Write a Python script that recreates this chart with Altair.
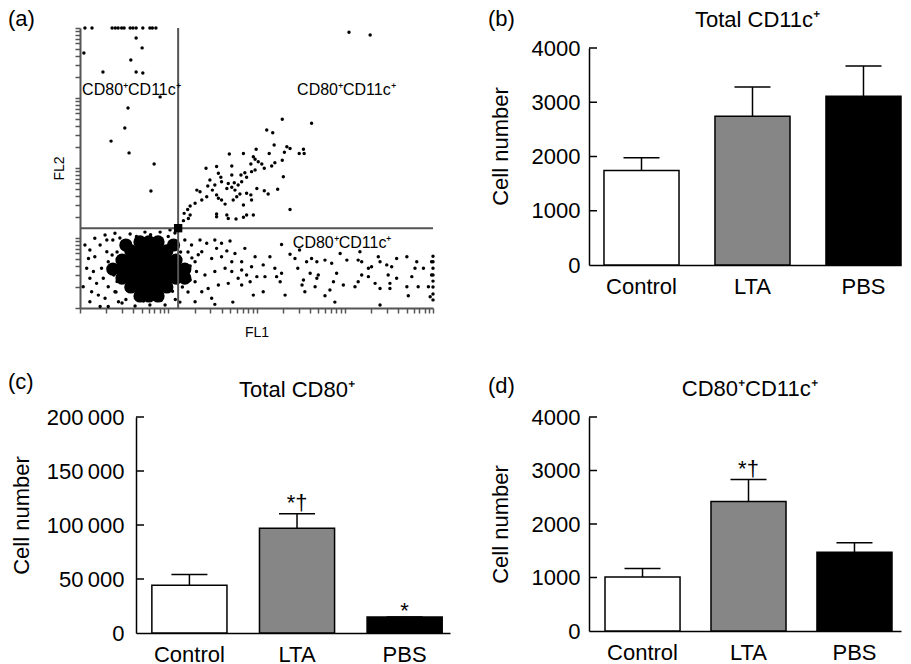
import altair as alt
import pandas as pd

FONT = "Liberation Sans"
FS = 22

# ---------------- panel (a): dot plot, FL1 / FL2 channels (0-1000) ----------------
gate_fl1 = 278
gate_fl2 = 285
axis_tick_channels = [0, 75, 119, 151, 175, 195, 211, 226, 239,
                      250, 325, 369, 401, 425, 445, 461, 476, 489,
                      500, 575, 619, 651, 675, 695, 711, 726, 739,
                      750, 825, 869, 901, 925, 945, 961, 976, 989, 1000]

ul_points = [(14, 1000), (34, 1000), (91, 1000), (100, 1000), (108, 1000), (118, 1000),
             (125, 1000), (142, 1000), (150, 1000), (159, 1000), (178, 1000), (198, 1000),
             (205, 1000), (215, 1000), (159, 964), (176, 929), (144, 886), (65, 843),
             (159, 843), (178, 839), (227, 754), (136, 714), (127, 643), (88, 596),
             (139, 554), (210, 514), (201, 418), (11, 911)]

ur_points = [(762, 985), (822, 975), (573, 674), (656, 660), (529, 636), (546, 626),
             (550, 582), (586, 576), (595, 570), (499, 567), (633, 567), (621, 552),
             (635, 552), (423, 550), (463, 552), (536, 552), (579, 556), (491, 540),
             (496, 531), (505, 522), (573, 528), (552, 519), (484, 514), (515, 514),
             (543, 507), (357, 499), (387, 505), (430, 507), (522, 499), (496, 493),
             (486, 487), (467, 483), (392, 481), (430, 475), (456, 475), (576, 469),
             (472, 467), (399, 467), (368, 457), (401, 451), (420, 445), (437, 447),
             (458, 451), (382, 439), (448, 439), (430, 431), (416, 427), (362, 436),
             (331, 421), (340, 415), (375, 421), (439, 421), (501, 427), (522, 419),
             (533, 407), (560, 424), (472, 410), (453, 407), (444, 397), (484, 404),
             (387, 404), (392, 392), (359, 397), (345, 386), (326, 374), (312, 364),
             (401, 386), (434, 386), (486, 386), (463, 368), (411, 371), (595, 352),
             (305, 352), (295, 338), (312, 332), (387, 336), (387, 326), (416, 332),
             (420, 320), (442, 318), (463, 324), (472, 332), (491, 332), (293, 312),
             (307, 320)]

lr_points = [(297, 243), (340, 243), (382, 243), (425, 239), (359, 231), (401, 231),
             (467, 213), (387, 213), (416, 204), (439, 195), (496, 183), (538, 183),
             (571, 227), (595, 192), (609, 177), (373, 177), (458, 165), (486, 147),
             (519, 154), (552, 142), (571, 124), (557, 112), (524, 112), (501, 112),
             (472, 118), (448, 106), (420, 88), (392, 82), (363, 70), (458, 82),
             (491, 46), (519, 58), (581, 46), (411, 142), (430, 130), (382, 130),
             (354, 118), (326, 94), (345, 58), (373, 35), (326, 22), (382, 13),
             (326, 165), (345, 201), (316, 225), (401, 183), (430, 165), (458, 136),
             (482, 94), (567, 94), (656, 177), (642, 165), (671, 165), (694, 171),
             (713, 160), (756, 171), (788, 171), (798, 165), (845, 183), (850, 165),
             (897, 177), (926, 183), (826, 147), (869, 154), (883, 147), (954, 165),
             (949, 142), (973, 142), (996, 165), (652, 124), (675, 118), (727, 124),
             (798, 118), (817, 112), (873, 118), (897, 106), (940, 112), (996, 118),
             (633, 100), (671, 106), (718, 94), (746, 82), (788, 94), (836, 88),
             (878, 88), (926, 76), (958, 76), (987, 76), (637, 58), (666, 76),
             (708, 64), (779, 76), (850, 70), (878, 70), (992, 40), (694, 44),
             (930, 44), (737, 195), (793, 201), (817, 142), (1000, 185), (1000, 165),
             (1000, 142), (1000, 118), (1000, 96), (1000, 75), (1000, 50), (1000, 29),
             (622, 207), (617, 142), (629, 82), (433, 21), (850, 11), (722, 21),
             (306, 200), (317, 179), (312, 150), (312, 100), (306, 57), (283, 21),
             (285, 200), (300, 120), (290, 75), (330, 130), (335, 190)]

ll_points = [(14, 225), (28, 207), (24, 177), (42, 183), (19, 142), (38, 130), (28, 106),
             (47, 88), (33, 58), (52, 46), (28, 22), (71, 35), (80, 5), (61, 142),
             (57, 225), (76, 243), (99, 267), (66, 106), (80, 165), (80, 76), (76, 201),
             (90, 130), (99, 58), (109, 22), (71, 261), (42, 249), (9, 76), (57, 5),
             (93, 243), (91, 189), (96, 118), (102, 57), (119, 18), (156, 7), (198, 11),
             (241, 11), (269, 268), (227, 271), (184, 271), (142, 264), (113, 250),
             (255, 279), (105, 200), (110, 150), (105, 95), (130, 30), (180, 25),
             (230, 28), (262, 60), (250, 255), (200, 262), (160, 255), (120, 230),
             (268, 240), (270, 30)]

core_points = [(170, 236), (195, 236), (221, 236),
               (144, 204), (170, 204), (195, 204), (221, 204), (246, 204),
               (119, 171), (144, 171), (170, 171), (195, 171), (221, 171), (246, 171), (272, 171),
               (119, 139), (144, 139), (170, 139), (195, 139), (221, 139), (246, 139), (272, 139),
               (119, 107), (144, 107), (170, 107), (195, 107), (221, 107), (246, 107), (272, 107),
               (144, 75), (170, 75), (195, 75), (221, 75), (246, 75),
               (195, 43), (170, 43), (221, 43), (297, 139), (297, 107), (93, 139),
               (265, 225), (130, 225)]

quad_label_text = ["CD80\u207aCD11c\u207a", "CD80\u207aCD11c\u207a", "CD80\u207aCD11c\u207a"]
quad_label_fl1 = [6, 615, 603]
quad_label_fl2 = [761, 761, 214]

# ---------------- bar panels ----------------
groups = ["Control", "LTA", "PBS"]
group_colors = ["#ffffff", "#868686", "#000000"]

b_values = [1740, 2740, 3110]
b_err = [1975, 3280, 3670]
b_ticks = [0, 1000, 2000, 3000, 4000]

c_values = [44300, 96900, 14800]
c_err = [54150, 110500, 14800]
c_ticks = [0, 50000, 100000, 150000, 200000]
c_sig_err = ["", "*\u2020", ""]
c_sig_bar = ["", "", "*"]

d_values = [1010, 2420, 1470]
d_err = [1170, 2830, 1650]
d_ticks = [0, 1000, 2000, 3000, 4000]
d_sig_err = ["", "*\u2020", ""]
d_sig_bar = ["", "", ""]


def pts_df(points):
    return pd.DataFrame({"fl1": [p[0] for p in points], "fl2": [p[1] for p in points]})


def panel_a():
    xs = alt.Scale(domain=[0, 1000], nice=False, zero=False)
    ys = alt.Scale(domain=[0, 1000], nice=False, zero=False)
    xa = alt.Axis(values=axis_tick_channels, labels=False, tickSize=5, tickColor="#555555",
                  tickWidth=1.5, domainColor="#555555", domainWidth=2, grid=False,
                  title="FL1", titleFont=FONT, titleFontSize=14, titleFontWeight="normal",
                  titleColor="black", titlePadding=12)
    ya = alt.Axis(values=axis_tick_channels, labels=False, tickSize=5, tickColor="#555555",
                  tickWidth=1.5, domainColor="#555555", domainWidth=2, grid=False,
                  title="FL2", titleFont=FONT, titleFontSize=14, titleFontWeight="normal",
                  titleColor="black", titlePadding=8)

    def X(f):
        return alt.X(f"{f}:Q", scale=xs, axis=xa)

    def Y(f):
        return alt.Y(f"{f}:Q", scale=ys, axis=ya)

    scatter = alt.Chart(pts_df(ul_points + ur_points + lr_points + ll_points)).mark_circle(
        size=12, color="black", opacity=1).encode(x=X("fl1"), y=Y("fl2"))
    core = alt.Chart(pts_df(core_points)).mark_circle(
        size=175, color="black", opacity=1).encode(x=X("fl1"), y=Y("fl2"))
    vgate = alt.Chart(pd.DataFrame({"fl1": [gate_fl1], "lo": [0], "hi": [1000]})).mark_rule(
        color="#555555", strokeWidth=2).encode(x=X("fl1"), y=Y("lo"), y2="hi:Q")
    hgate = alt.Chart(pd.DataFrame({"fl2": [gate_fl2], "lo": [0], "hi": [1000]})).mark_rule(
        color="#555555", strokeWidth=2).encode(y=Y("fl2"), x=X("lo"), x2="hi:Q")
    marker = alt.Chart(pd.DataFrame({"fl1": [gate_fl1], "fl2": [gate_fl2]})).mark_square(
        size=70, color="black", opacity=1).encode(x=X("fl1"), y=Y("fl2"))
    labels = alt.Chart(pd.DataFrame({"fl1": quad_label_fl1, "fl2": quad_label_fl2,
                                     "t": quad_label_text})).mark_text(
        align="left", baseline="alphabetic", font=FONT, fontSize=16, color="black").encode(
        x=X("fl1"), y=Y("fl2"), text="t:N")
    letter = alt.Chart(pd.DataFrame({"t": ["(a)"]})).mark_text(
        align="left", baseline="alphabetic", font=FONT, fontSize=FS, color="black").encode(
        text="t:N", x=alt.value(-72), y=alt.value(-2))
    return alt.layer(scatter, core, vgate, hgate, marker, labels, letter).properties(
        width=353, height=280)


def bar_panel(values, errs, ticks, heading, letter, sig_err, sig_bar,
              plot_w, plot_h, off_x, off_y,
              p_inner, p_outer, band_align, label_expr, title_pad, title_y,
              heading_x, heading_y, letter_x, letter_y, label_pad):
    df = pd.DataFrame({"group": groups, "value": values, "err": errs,
                       "sig_err": sig_err, "sig_bar": sig_bar})
    xs = alt.Scale(domain=groups, range=[off_x, off_x + plot_w], paddingInner=p_inner,
                   paddingOuter=p_outer, align=band_align)
    xa = alt.Axis(title=None, ticks=False, labelAngle=0, labelPadding=11, labelFont=FONT,
                  labelFontSize=FS, labelColor="black", domainColor="black", domainWidth=1.5,
                  grid=False)
    ys = alt.Scale(domain=[ticks[0], ticks[-1]], range=[off_y + plot_h, off_y],
                   nice=False, zero=True)
    ya_kwargs = dict(values=ticks, labelExpr=label_expr, ticks=False, labelPadding=label_pad,
                     labelFont=FONT, labelFontSize=FS, labelColor="black",
                     domainColor="black", domainWidth=1.5, grid=False,
                     title="Cell number", titleFont=FONT, titleFontSize=FS,
                     titleFontWeight="normal", titleColor="black", titlePadding=title_pad)
    if off_x:
        ya_kwargs["offset"] = -off_x
    if title_y is not None:
        ya_kwargs["titleY"] = title_y
    ya = alt.Axis(**ya_kwargs)

    def X():
        return alt.X("group:N", sort=groups, scale=xs, axis=xa)

    def Y(f):
        return alt.Y(f"{f}:Q", scale=ys, axis=ya)

    base = alt.Chart(df)
    bars = base.mark_bar(stroke="black", strokeWidth=1.5).encode(
        x=X(), y=Y("value"),
        color=alt.Color("group:N", scale=alt.Scale(domain=groups, range=group_colors),
                        legend=None))
    stem = base.mark_rule(color="black", strokeWidth=1.5).encode(
        x=X(), y=Y("value"), y2="err:Q")
    cap = base.mark_tick(color="black", size=36, thickness=1.5, orient="horizontal",
                         opacity=1).encode(x=X(), y=Y("err"))
    inward = alt.Chart(pd.DataFrame({"t": ticks[1:]})).mark_rule(
        color="black", strokeWidth=1.5).encode(
        y=Y("t"), x=alt.value(off_x), x2=alt.value(off_x + 8))
    s_err = base.mark_text(font=FONT, fontSize=FS, color="black", baseline="alphabetic",
                           dy=-4).encode(x=X(), y=Y("err"), text="sig_err:N")
    s_bar = base.mark_text(font=FONT, fontSize=FS, color="black", baseline="alphabetic",
                           dy=1).encode(x=X(), y=Y("value"), text="sig_bar:N")
    head = alt.Chart(pd.DataFrame({"t": [heading]})).mark_text(
        align="center", baseline="alphabetic", font=FONT, fontSize=FS, color="black").encode(
        text="t:N", x=alt.value(heading_x), y=alt.value(heading_y))
    let = alt.Chart(pd.DataFrame({"t": [letter]})).mark_text(
        align="left", baseline="alphabetic", font=FONT, fontSize=FS, color="black").encode(
        text="t:N", x=alt.value(letter_x), y=alt.value(letter_y))
    return alt.layer(bars, stem, cap, inward, s_err, s_bar, head, let).properties(
        width=off_x + plot_w, height=off_y + plot_h)


fmt_plain = "format(datum.value, 'd')"
fmt_thin = "replace(format(datum.value, ','), ',', '\u2009')"

pa = panel_a()
pb = bar_panel(b_values, b_err, b_ticks, "Total CD11c\u207a", "(b)", ["", "", ""], ["", "", ""],
               312, 217, 0, 20, 0.324, 0.0675, 1.0, fmt_plain, 19, 118,
               168.5, -1, -101, -2, 9)
pc = bar_panel(c_values, c_err, c_ticks, "Total CD80\u207a", "(c)", c_sig_err, c_sig_bar,
               314, 216, 56, 0, 0.302, 0.11, 0.67, fmt_thin, 13, 98,
               217, -20, -72, -28, 12)
pd_ = bar_panel(d_values, d_err, d_ticks, "CD80\u207aCD11c\u207a", "(d)", d_sig_err, d_sig_bar,
                312, 214, 0, 0, 0.292, 0.118, 0.64, fmt_plain, 19, None,
                160.7, -21, -101, -24, 9)

col1 = alt.vconcat(pa, pc, spacing=31)
col2 = alt.vconcat(pb, pd_, spacing=78)
chart = alt.hconcat(col1, col2, spacing=38).properties(
    padding={"left": 0, "top": 0, "right": 0, "bottom": 0}
).configure_view(stroke=None)

chart.save("out.html", embed_options={"renderer": "svg", "actions": False})
